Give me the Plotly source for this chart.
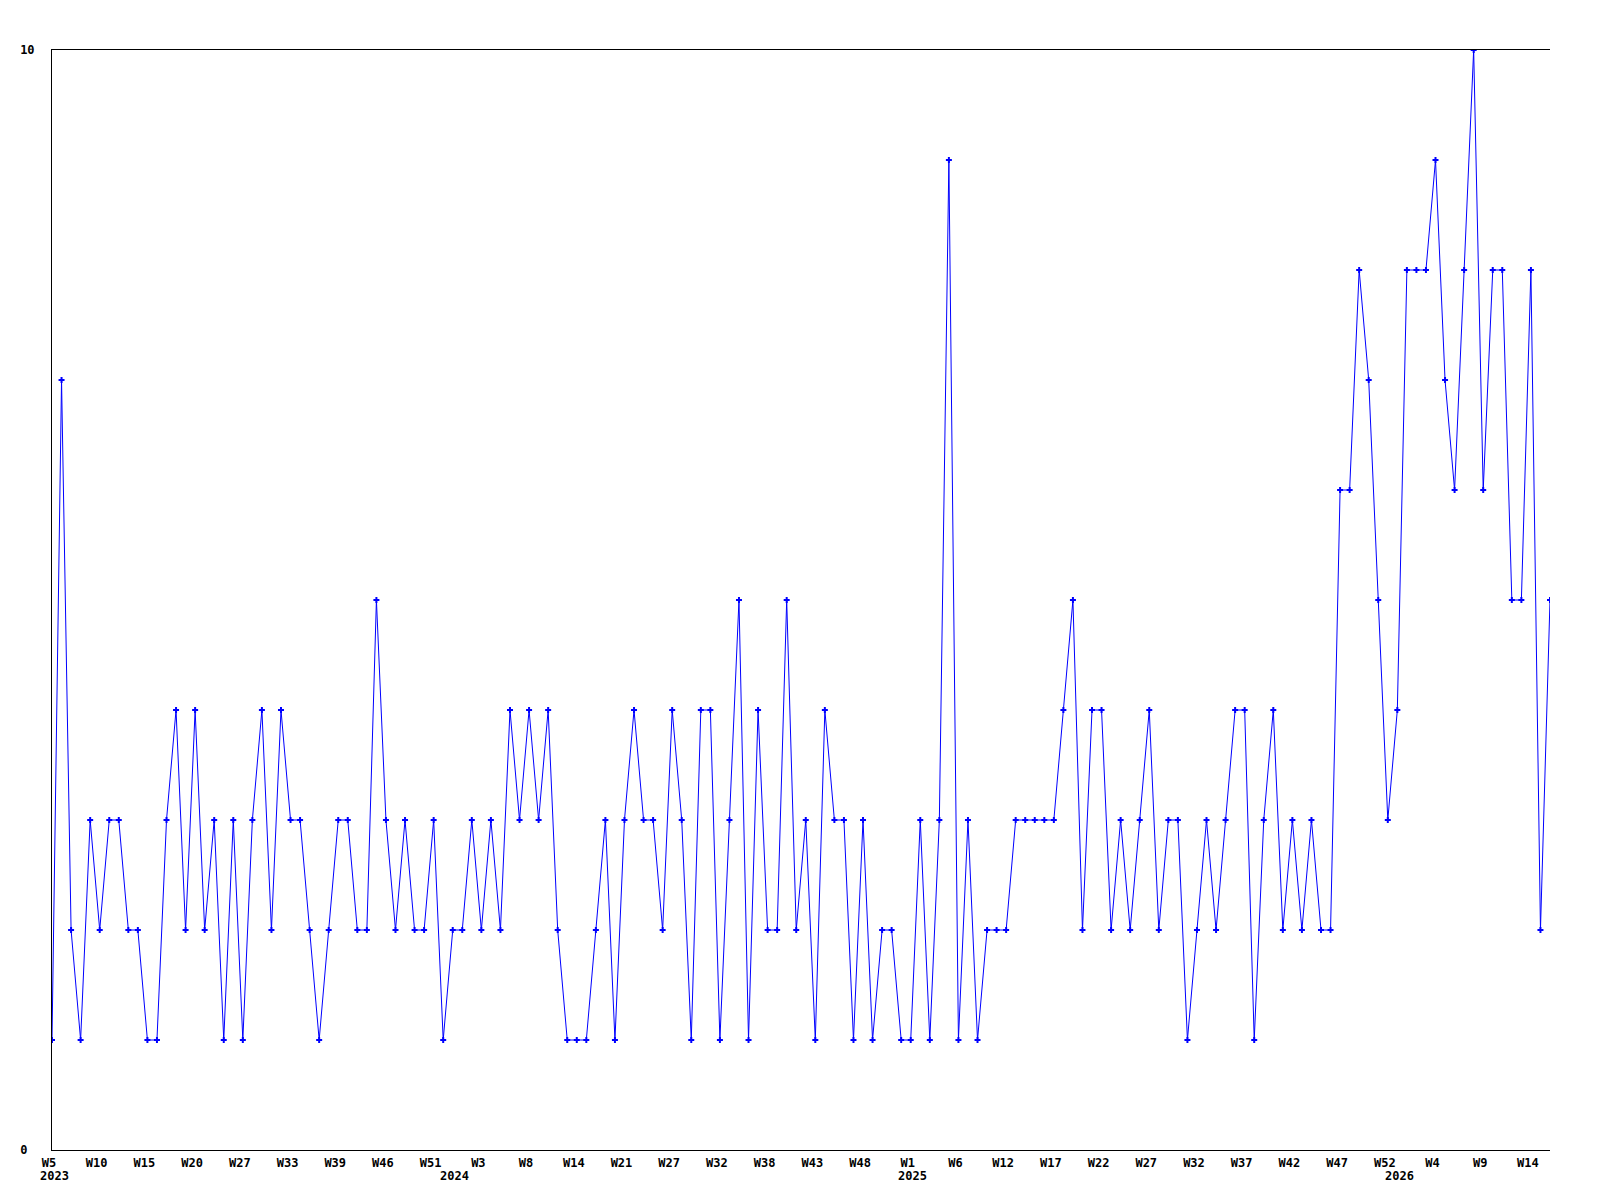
import plotly.graph_objects as go

# weekly counts, one value per plotted week
counts = [1, 7, 2, 1, 3, 2, 3, 3, 2, 2,
          1, 1, 3, 4, 2, 4, 2, 3, 1, 3,
          1, 3, 4, 2, 4, 3, 3, 2, 1, 2,
          3, 3, 2, 2, 5, 3, 2, 3, 2, 2,
          3, 1, 2, 2, 3, 2, 3, 2, 4, 3,
          4, 3, 4, 2, 1, 1, 1, 2, 3, 1,
          3, 4, 3, 3, 2, 4, 3, 1, 4, 4,
          1, 3, 5, 1, 4, 2, 2, 5, 2, 3,
          1, 4, 3, 3, 1, 3, 1, 2, 2, 1,
          1, 3, 1, 3, 9, 1, 3, 1, 2, 2,
          2, 3, 3, 3, 3, 3, 4, 5, 2, 4,
          4, 2, 3, 2, 3, 4, 2, 3, 3, 1,
          2, 3, 2, 3, 4, 4, 1, 3, 4, 2,
          3, 2, 3, 2, 2, 6, 6, 8, 7, 5,
          3, 4, 8, 8, 8, 9, 7, 6, 8, 10,
          6, 8, 8, 5, 5, 8, 2, 5]

# every 5th week gets a label
week_labels = ["W5", "W10", "W15", "W20", "W27", "W33", "W39", "W46", "W51",
               "W3", "W8", "W14", "W21", "W27", "W32", "W38", "W43", "W48",
               "W1", "W6", "W12", "W17", "W22", "W27", "W32", "W37", "W42",
               "W47", "W52", "W4", "W9", "W14"]
label_step = 5

years = ["2023", "2024", "2025", "2026"]
year_start = [0, 42, 90, 141]   # index of first plotted week of each year

x = list(range(len(counts)))
tick_pos = [i * label_step for i in range(len(week_labels))]

font = dict(family="DejaVu Sans Mono", size=12, color="black", weight="bold")

fig = go.Figure()
fig.add_trace(go.Scatter(x=x, y=counts, mode="lines+markers",
                         line=dict(color="#0000ff", width=1),
                         marker=dict(symbol="cross", size=5, color="#0000ff"),
                         hoverinfo="y"))

for yr, pos in zip(years, year_start):
    fig.add_annotation(x=pos, y=-0.0236, xref="x", yref="paper", text=yr,
                       showarrow=False, xanchor="center", yanchor="middle",
                       xshift=2, font=font)

# page body adds 8px, so margins are trimmed to keep the plot at 50..1550
fig.update_layout(width=1592, height=1192,
                  margin=dict(l=42, r=50, t=42, b=50),
                  plot_bgcolor="white", paper_bgcolor="white",
                  showlegend=False)
fig.update_xaxes(range=[0, len(counts) - 1], tickvals=tick_pos, ticktext=week_labels,
                 showgrid=False, zeroline=False, showline=True, mirror=True,
                 linecolor="black", linewidth=1, ticks="", ticklabelstandoff=2,
                 ticklabelshift=-3, tickfont=font)
fig.update_yaxes(range=[0, 10], tickvals=[0, 10], ticktext=["0\u00a0", "10"],
                 showgrid=False, zeroline=False, showline=True, mirror=False,
                 linecolor="black", linewidth=1, ticks="", ticklabelstandoff=14,
                 tickfont=font)

fig.write_html("out.html")
